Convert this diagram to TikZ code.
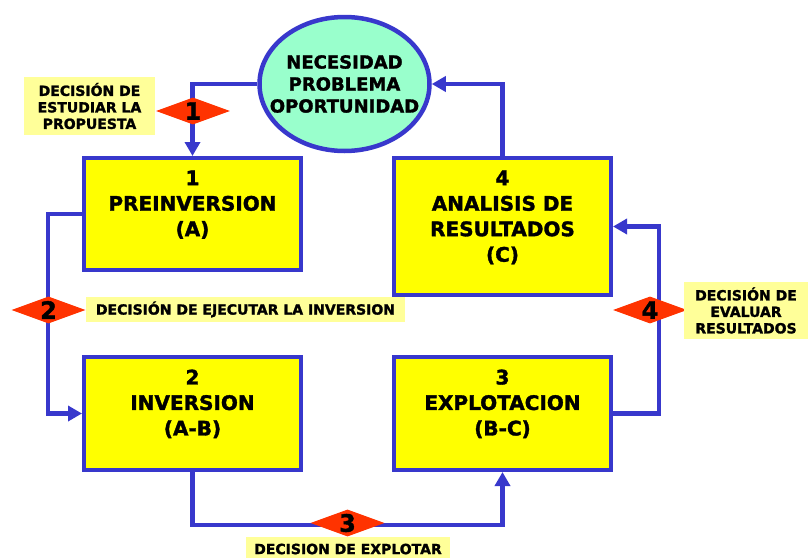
\documentclass[tikz,border=0pt]{standalone}
\usepackage{fontspec}
\setmainfont{DejaVu Sans}[BoldFeatures={FakeBold=1.6}]
\usetikzlibrary{arrows.meta,shapes.geometric}
\definecolor{lineblue}{RGB}{56,56,204}
\definecolor{boxyellow}{RGB}{255,255,0}
\definecolor{mint}{RGB}{153,255,204}
\definecolor{dred}{RGB}{255,51,0}
\definecolor{paleyellow}{RGB}{255,255,153}
\tikzset{
  stagebox/.style={draw=lineblue,line width=4pt,fill=boxyellow,rectangle,inner sep=0pt,minimum width=217pt},
  stagetext/.style={anchor=north,align=center,inner sep=0pt,font=\fontsize{20}{25.5}\selectfont\bfseries},
  flow/.style={draw=lineblue,line width=4.5pt,-{Triangle[width=15pt,length=14pt]}},
  decision/.style={diamond,fill=dred,inner sep=0pt,minimum width=74pt,minimum height=27pt,aspect=2.74,font=\fontsize{24}{24}\selectfont\bfseries},
  note/.style={fill=paleyellow,rectangle,inner sep=0pt,align=center,font=\fontsize{14}{16.5}\selectfont\bfseries}
}
\begin{document}
\begin{tikzpicture}[x=1pt,y=-1pt]
\useasboundingbox (0,0) rectangle (808,557);
% ellipse
\node (e) [ellipse,draw=lineblue,line width=4.5pt,fill=mint,minimum width=170pt,minimum height=134pt,inner sep=0pt] at (344.5,84) {};
\node (et) [anchor=north,align=center,inner sep=0pt,font=\fontsize{18}{22}\selectfont\bfseries] at (344.5,55) {NECESIDAD\\PROBLEMA\\OPORTUNIDAD};
% boxes
\node (b1) [stagebox,minimum height=112pt] at (192.5,214) {};
\node (b4) [stagebox,minimum height=137pt] at (502.5,226.5) {};
\node (b2) [stagebox,minimum height=113pt] at (192.5,413.5) {};
\node (b3) [stagebox,minimum height=113pt] at (502.5,413.5) {};
\node (t1) [stagetext] at (192.5,170.4) {1\\PREINVERSION\\(A)};
\node (t4) [stagetext] at (502.5,170.4) {4\\ANALISIS DE\\RESULTADOS\\(C)};
\node (t2) [stagetext] at (192.5,369.4) {2\\INVERSION\\(A-B)};
\node (t3) [stagetext] at (502.5,369.4) {3\\EXPLOTACION\\(B-C)};
% bend coordinates
\coordinate (c2) at (48,310);
\coordinate (c3) at (347,525);
\coordinate (c4) at (659,310);
% connectors
\draw[flow] (e.west) -| (b1.north);
\draw[flow] (b1.west) -| (c2) |- (b2.west);
\draw[flow] (b2.south) |- (c3) -| (b3.south);
\draw[flow] (b3.east) -| (c4) |- (b4.east);
\draw[flow] (b4.north) |- (e.east);
% decisions
\node (d1) [decision] at (193,111) {1};
\node (d2) [decision] at (48.5,310) {2};
\node (d3) [decision] at (347.5,523) {3};
\node (d4) [decision] at (650,310) {4};
% notes
\node (n1) [note,minimum width=131pt,minimum height=58pt] at (89.5,106) {DECISIÓN DE\\ESTUDIAR LA\\PROPUESTA};
\node (n2) [note,minimum width=319pt,minimum height=25pt] at (245.5,309.5) {DECISIÓN DE EJECUTAR LA INVERSION};
\node (n3) [note,minimum width=204pt,minimum height=24pt] at (348,549) {DECISION DE EXPLOTAR};
\node (n4) [note,minimum width=124pt,minimum height=57pt] at (746,310.5) {DECISIÓN DE\\EVALUAR\\RESULTADOS};
\end{tikzpicture}
\end{document}
